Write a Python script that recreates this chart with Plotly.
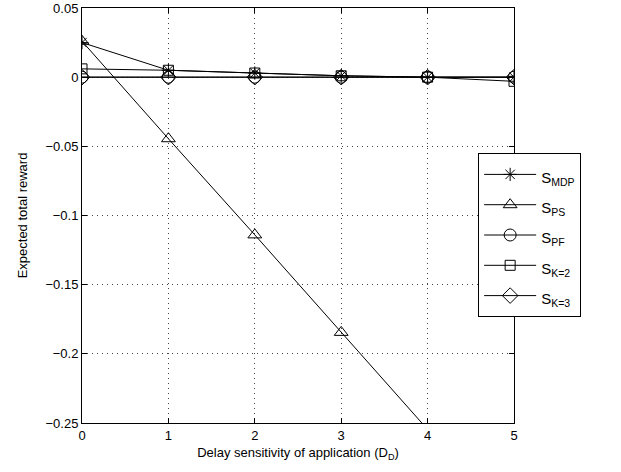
import plotly.graph_objects as go

x_vals = [0, 1, 2, 3, 4, 5]
s_mdp = [0.025, 0.005, 0.003, 0.001, 0.0, 0.0]
s_ps = [0.026, -0.0445, -0.114, -0.1845, -0.255, -0.325]
s_pf = [0.0, 0.0, 0.0, 0.0, 0.0, 0.0]
s_k2 = [0.006, 0.005, 0.003, 0.001, 0.0, -0.003]
s_k3 = [0.0, 0.0, 0.0, 0.0, 0.0, 0.0]

names = ["S<sub>MDP</sub>", "S<sub>PS</sub>", "S<sub>PF</sub>", "S<sub>K=2</sub>", "S<sub>K=3</sub>"]
series = [s_mdp, s_ps, s_pf, s_k2, s_k3]
symbols = ["asterisk-open", "triangle-up-open", "circle-open", "square-open", "diamond-open"]
sizes = [11, 12, 12, 10, 12]

y_ticks = [0.05, 0, -0.05, -0.1, -0.15, -0.2, -0.25]
y_text = ["0.05", "0", "\u22120.05", "\u22120.1", "\u22120.15", "\u22120.2", "\u22120.25"]

fig = go.Figure()
for nm, ys, sym, sz in zip(names, series, symbols, sizes):
    fig.add_trace(go.Scatter(
        x=x_vals, y=ys, name='<span style="font-size:15px">' + nm + '</span>', mode="lines+markers",
        line=dict(color="black", width=1),
        marker=dict(symbol=sym, size=sz, color="black", line=dict(color="black", width=1)),
        cliponaxis=True,
    ))

axis_common = dict(
    showline=True, linecolor="black", linewidth=1, mirror="ticks",
    ticks="inside", ticklen=5, tickcolor="black",
    showgrid=True, gridcolor="#444", griddash="1px,4px", gridwidth=1,
    zeroline=False, tickfont=dict(size=13, color="black"), automargin=False,
)

fig.update_layout(
    width=621, height=472,
    margin=dict(l=82, r=107, t=8, b=49),
    paper_bgcolor="white", plot_bgcolor="white",
    font=dict(family="Liberation Sans, Arial, sans-serif", size=13, color="black"),
    xaxis=dict(range=[0, 5], tickvals=x_vals, title=dict(text="Delay sensitivity of application (D<sub>D</sub>)", standoff=6, font=dict(size=13)), **axis_common),
    yaxis=dict(range=[-0.25, 0.05], tickvals=y_ticks, ticktext=y_text, title=dict(text="Expected total reward", standoff=14, font=dict(size=13)), **axis_common),
    legend=dict(x=0.917, y=0.65, xanchor="left", yanchor="top",
                bgcolor="white", bordercolor="black", borderwidth=1,
                font=dict(size=21), tracegroupgap=0, itemwidth=52),
    showlegend=True,
)

fig.write_html("out.html")
